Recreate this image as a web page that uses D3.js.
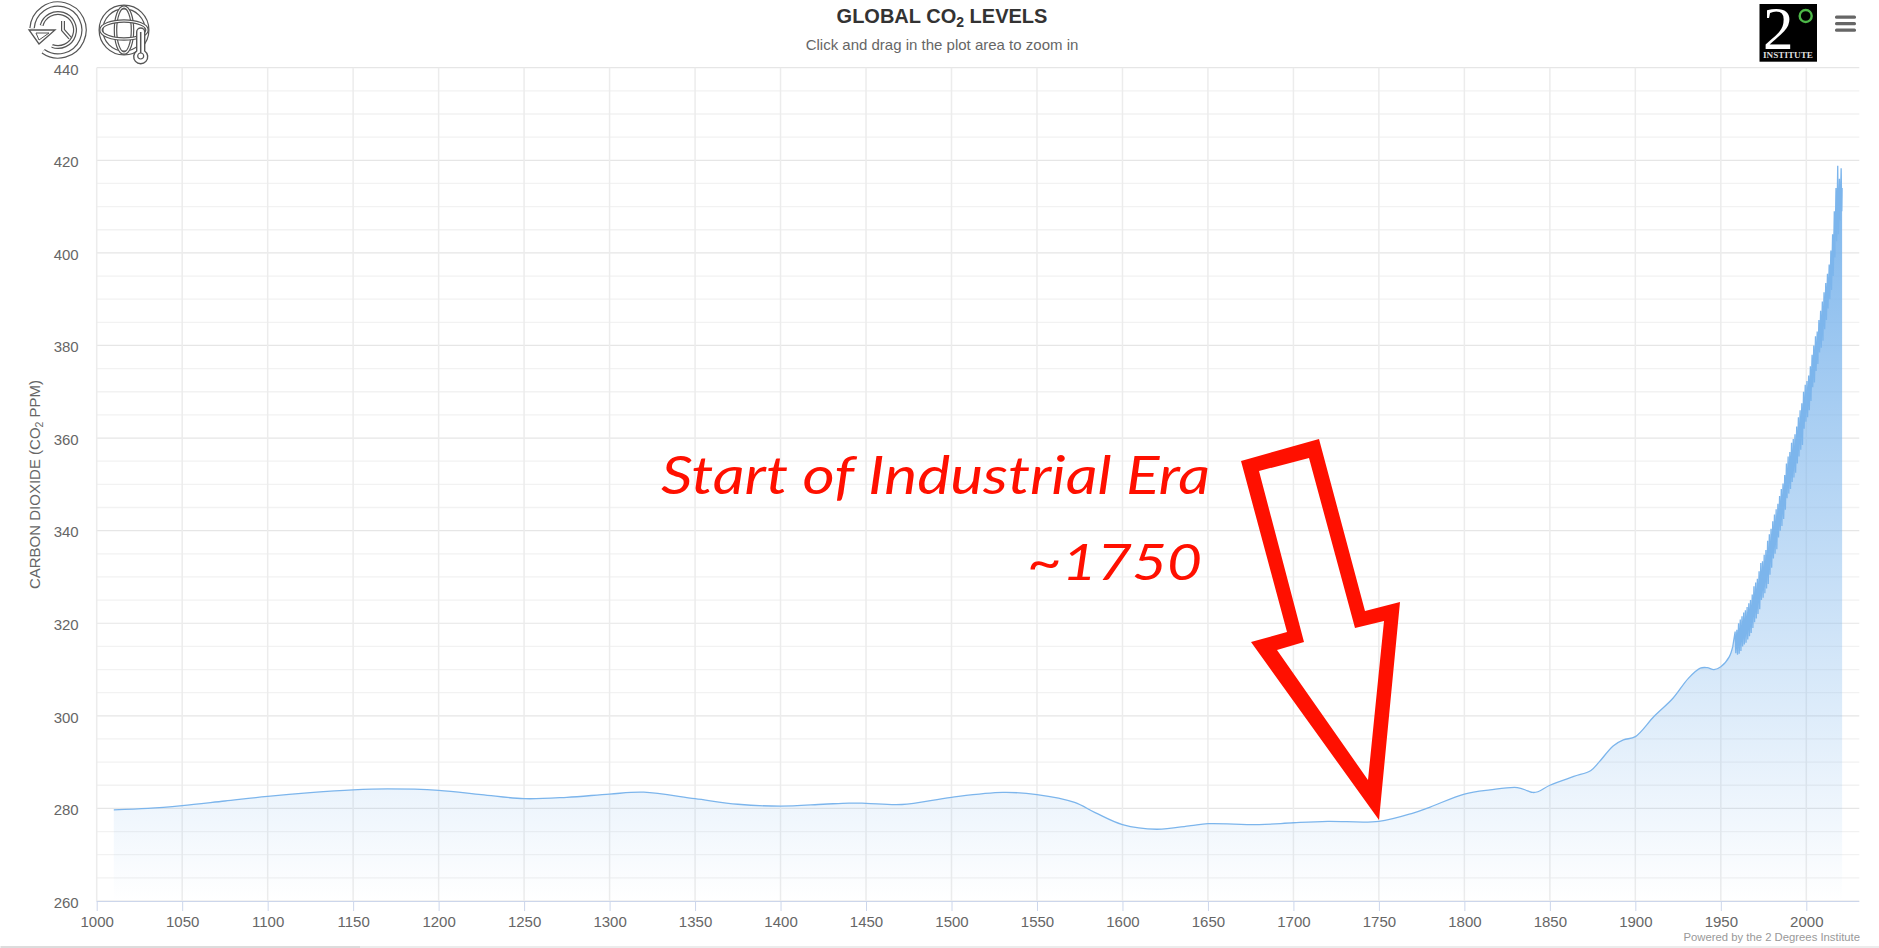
<!DOCTYPE html>
<html><head><meta charset="utf-8">
<script src="https://cdn.jsdelivr.net/npm/d3@7/dist/d3.min.js"></script>
<style>
html,body{margin:0;padding:0;background:#fff;overflow:hidden}
svg{display:block}
text{font-family:"Liberation Sans",Arial,sans-serif}
</style></head><body>
<svg id="c" width="1879" height="948"></svg>
<script>
const titleMain="GLOBAL CO", titleSub="2", titleEnd=" LEVELS";
const subtitle="Click and drag in the plot area to zoom in";
const credit="Powered by the 2 Degrees Institute";
const xTicks=[1000,1050,1100,1150,1200,1250,1300,1350,1400,1450,1500,1550,1600,1650,1700,1750,1800,1850,1900,1950,2000];
const yTicks=[260,280,300,320,340,360,380,400,420,440];
const histYears=[1010,1030,1050,1075,1100,1125,1150,1170,1200,1225,1250,1275,1300,1320,1350,1375,1400,1425,1440,1450,1471,1500,1530,1550,1572,1584,1600,1620,1640,1650,1680,1700,1720,1750,1770,1780,1800,1815,1831,1837,1840,1843,1850,1864,1874,1879,1887,1893,1900,1911,1922,1931,1938,1942,1946,1950,1955,1957];
const histPpm=[279.7,280.0,280.6,281.6,282.6,283.4,284.0,284.2,283.9,283.0,282.1,282.4,283.1,283.5,282.1,280.9,280.5,280.9,281.15,281.1,280.85,282.4,283.45,283.0,281.3,279.1,276.5,275.5,276.3,276.7,276.5,276.9,277.2,277.2,279.0,280.3,283.1,284.0,284.5,283.8,283.45,283.6,285.0,286.9,288.2,290.1,293.5,294.8,295.5,299.9,303.8,308.1,310.3,310.4,310.0,310.6,312.8,315.0];
const seasonYears=[1958,1959,1960,1961,1962,1963,1964,1965,1966,1967,1968,1969,1970,1971,1972,1973,1974,1975,1976,1977,1978,1979,1980,1981,1982,1983,1984,1985,1986,1987,1988,1989,1990,1991,1992,1993,1994,1995,1996,1997,1998,1999,2000,2001,2002,2003,2004,2005,2006,2007,2008,2009,2010,2011,2012,2013,2014,2015,2016,2017,2018,2019,2020];
const seasonPeaks=[318.2,318.6,320,320.8,321.5,322.3,322.8,323.5,324.3,325,326.2,328,328.8,329.6,331.2,333,333.4,334.8,335.8,337.8,339.2,340.4,342,343.5,344.6,345.8,347.5,349,350.2,352,354.5,356,357,359,359.8,360.8,362.5,364.5,366,367.5,370,371.5,372.3,373.5,375.5,378,380,382,383,385.5,387.5,389.5,391.5,393.5,395.5,397.5,400.5,404,409,414,418.8,416,418.3];
const seasonLows=[313.5,313.2,313.4,314,315,315.4,315.8,316.5,317.2,317.9,319,320.2,321,322,323,325,325.5,326.5,327.5,328.5,330.5,332,334,335,336,338.5,340,341,342.5,344.5,347,348,349,350.5,351.5,352.5,354.5,356,357.5,358.5,362,363.5,364.5,366,368,371,372,374.5,376,378.5,379.5,381,383.5,385.5,388,390,392,395,399,402.5,404,407,409];
const peakPhase=0.38, lowPhase=0.75;
const endYears=[2020.95], endPpm=[414];
const annotation=["Start of Industrial Era","~1750"];

const hist=histYears.map((yr,i)=>[yr,histPpm[i]]);
const season=[hist[hist.length-1]];
seasonYears.forEach((yr,i)=>{season.push([yr+peakPhase,seasonPeaks[i]]);season.push([yr+lowPhase,seasonLows[i]]);});
endYears.forEach((yr,i)=>season.push([yr,endPpm[i]]));

const svg=d3.select("#c");
const L=96.7,R=1859.3,T=67.7,B=901;
const x=d3.scaleLinear().domain([1000,2031]).range([L,R]);
const y=d3.scaleLinear().domain([260,440]).range([B,T]);

const defs=svg.append("defs");
const g=defs.append("linearGradient").attr("id","fill").attr("x1",0).attr("y1",0).attr("x2",0).attr("y2",1);
g.append("stop").attr("offset",0).attr("stop-color","#7cb5ec").attr("stop-opacity",1);
g.append("stop").attr("offset",1).attr("stop-color","#7cb5ec").attr("stop-opacity",0);

// grid
const grid=svg.append("g");
grid.selectAll("line.minor").data(y.ticks(45).filter(v=>!yTicks.includes(v))).join("line").attr("class","minor")
  .attr("x1",L).attr("x2",R).attr("y1",d=>y(d)).attr("y2",d=>y(d)).attr("stroke","#f2f2f2").attr("stroke-width",1.3);
grid.selectAll("line.major").data(yTicks).join("line").attr("class","major")
  .attr("x1",L).attr("x2",R).attr("y1",d=>y(d)).attr("y2",d=>y(d)).attr("stroke","#e6e6e6").attr("stroke-width",1.2);
grid.selectAll("line.v").data(xTicks).join("line").attr("class","v")
  .attr("x1",d=>x(d)).attr("x2",d=>x(d)).attr("y1",T).attr("y2",B).attr("stroke","#ececec").attr("stroke-width",1.5);

// area + line: smooth history, straight seasonal zigzag
const smooth=d3.line().x(d=>x(d[0])).y(d=>y(d[1])).curve(d3.curveCatmullRom.alpha(0.5));
const zig=d3.line().x(d=>x(d[0])).y(d=>y(d[1]));
const lineD=smooth(hist)+zig(season).replace(/^M/,"L");
const lastP=season[season.length-1];
const areaD=lineD+`L${x(lastP[0])},${y(260)}L${x(hist[0][0])},${y(260)}Z`;
svg.append("path").attr("fill","url(#fill)").attr("d",areaD);
svg.append("path").attr("fill","none").attr("stroke","#7cb5ec").attr("stroke-width",1.3).attr("d",lineD);

// axes
const ax=svg.append("g").attr("transform",`translate(0,${B})`).call(d3.axisBottom(x).tickValues(xTicks).tickFormat(d3.format("d")).tickSize(10).tickPadding(5.5));
ax.select(".domain").attr("stroke","#ccd6eb").attr("d",`M${L},0.5H${R}`);
ax.selectAll(".tick line").attr("stroke","#ccd6eb");
ax.selectAll("text").attr("fill","#666").attr("font-size",15).attr("font-family",'"Liberation Sans",sans-serif');
const ay=svg.append("g").attr("transform",`translate(${L},0)`).call(d3.axisLeft(y).tickValues(yTicks).tickSize(0).tickPadding(18));
ay.select(".domain").remove();
ay.selectAll("text").attr("fill","#666").attr("font-size",15).attr("dy","0.42em").attr("font-family",'"Liberation Sans",sans-serif');

// titles
const t=svg.append("text").attr("x",942).attr("y",23).attr("text-anchor","middle").attr("fill","#333").attr("font-weight","bold").attr("font-size",20);
t.append("tspan").text(titleMain);
t.append("tspan").text(titleSub).attr("dy",4).attr("font-size",14);
t.append("tspan").text(titleEnd).attr("dy",-4);
svg.append("text").attr("x",942).attr("y",49.5).attr("text-anchor","middle").attr("fill","#666").attr("font-size",15).text(subtitle);
svg.append("text").attr("x",1860).attr("y",941).attr("text-anchor","end").attr("fill","#999").attr("font-size",11.3).text(credit);
const yt=svg.append("text").attr("transform","translate(40,484.5) rotate(-90)").attr("text-anchor","middle").attr("fill","#666").attr("font-size",15);
yt.append("tspan").text("CARBON DIOXIDE (CO");
yt.append("tspan").text("2").attr("dy",3).attr("font-size",10.5);
yt.append("tspan").text(" PPM)").attr("dy",-3);

// annotation
const red="#ff1000";
svg.append("path").attr("fill",red).attr("fill-rule","evenodd")
 .attr("d","M1241,461L1319,439L1365,611L1400,602L1379,820L1251,642L1287,632Z M1259,471L1309,458L1355,628L1384,621L1368,780L1277,650L1304,642Z");
svg.append("text").attr("x",661).attr("y",494).attr("fill",red).attr("font-style","italic").attr("font-size",52).style("font-family",'Lato,sans-serif').attr("textLength",549).attr("lengthAdjust","spacingAndGlyphs").text(annotation[0]);
svg.append("text").attr("x",1027).attr("y",580).attr("fill",red).attr("font-style","italic").attr("font-size",50).style("font-family",'Lato,sans-serif').attr("textLength",175).attr("lengthAdjust","spacingAndGlyphs").text(annotation[1]);

// outlined-stroke helper for icons
function outl(gr,d,w){
  gr.append("path").attr("d",d).attr("fill","none").attr("stroke","#555").attr("stroke-width",w||5.5);
  gr.append("path").attr("d",d).attr("fill","none").attr("stroke","#fff").attr("stroke-width",(w||5.5)-2.4);
}
// history icon
const i1=svg.append("g").attr("transform","translate(58,30)");
outl(i1,d3.arc()({innerRadius:26,outerRadius:26,startAngle:-1.5,endAngle:3.75}));
outl(i1,d3.arc()({innerRadius:17,outerRadius:17,startAngle:-1.3,endAngle:3.5}),4);
outl(i1,"M5,-9V0L12,8",4);
i1.append("path").attr("d","M-29,0H-3L-19,14Z").attr("fill","#fff").attr("stroke","#555").attr("stroke-width",1.3);
i1.append("path").attr("d","M-22,3H-9L-19,10Z").attr("fill","#fff").attr("stroke","#555").attr("stroke-width",1);
// globe icon
const i2=svg.append("g").attr("transform","translate(124,30)");
outl(i2,"M-23,0A23,23 0 1,1 23,0A23,23 0 1,1 -23,0",5);
outl(i2,"M-8.5,0A8.5,23 0 1,1 8.5,0A8.5,23 0 1,1 -8.5,0",3.6);
outl(i2,"M-23,0A23,9 0 1,1 23,0A23,9 0 1,1 -23,0",3.6);
const th=svg.append("g").attr("transform","translate(140.7,56)");
th.append("path").attr("d","M-4,-5V-24A4,4 0 0,1 4,-24V-5A7,7 0 1,1 -4,-5Z").attr("fill","#fff").attr("stroke","#555").attr("stroke-width",1.4);
th.append("circle").attr("r",3).attr("fill","#fff").attr("stroke","#555").attr("stroke-width",1.2);
th.append("path").attr("d","M0,-3V-24").attr("stroke","#555").attr("stroke-width",1.5);

// logo
const lg=svg.append("g");
lg.append("rect").attr("x",1759.5).attr("y",4).attr("width",57.5).attr("height",57.7).attr("fill","#000");
lg.append("text").attr("x",1763).attr("y",49).attr("fill","#fff").attr("font-size",61).style("font-family",'"Liberation Serif",serif').text("2");
lg.append("circle").attr("cx",1805.7).attr("cy",16).attr("r",6).attr("fill","none").attr("stroke","#4db848").attr("stroke-width",2.4);
lg.append("text").attr("x",1763).attr("y",58).attr("fill","#ddd").attr("font-size",8.5).attr("font-weight","bold").attr("textLength",50).attr("lengthAdjust","spacingAndGlyphs").style("font-family",'"Liberation Serif",serif').text("INSTITUTE");

// menu
[15.5,22,28.5].forEach(v=>svg.append("rect").attr("x",1835).attr("y",v).attr("width",21).attr("height",3.2).attr("rx",1.5).attr("fill","#666"));

// bottom scrollbar
svg.append("rect").attr("x",0).attr("y",946).attr("width",1879).attr("height",2).attr("fill","#ececec");
svg.append("rect").attr("x",1).attr("y",946).attr("width",359).attr("height",2).attr("fill","#dcdcdc");
</script>
</body></html>
